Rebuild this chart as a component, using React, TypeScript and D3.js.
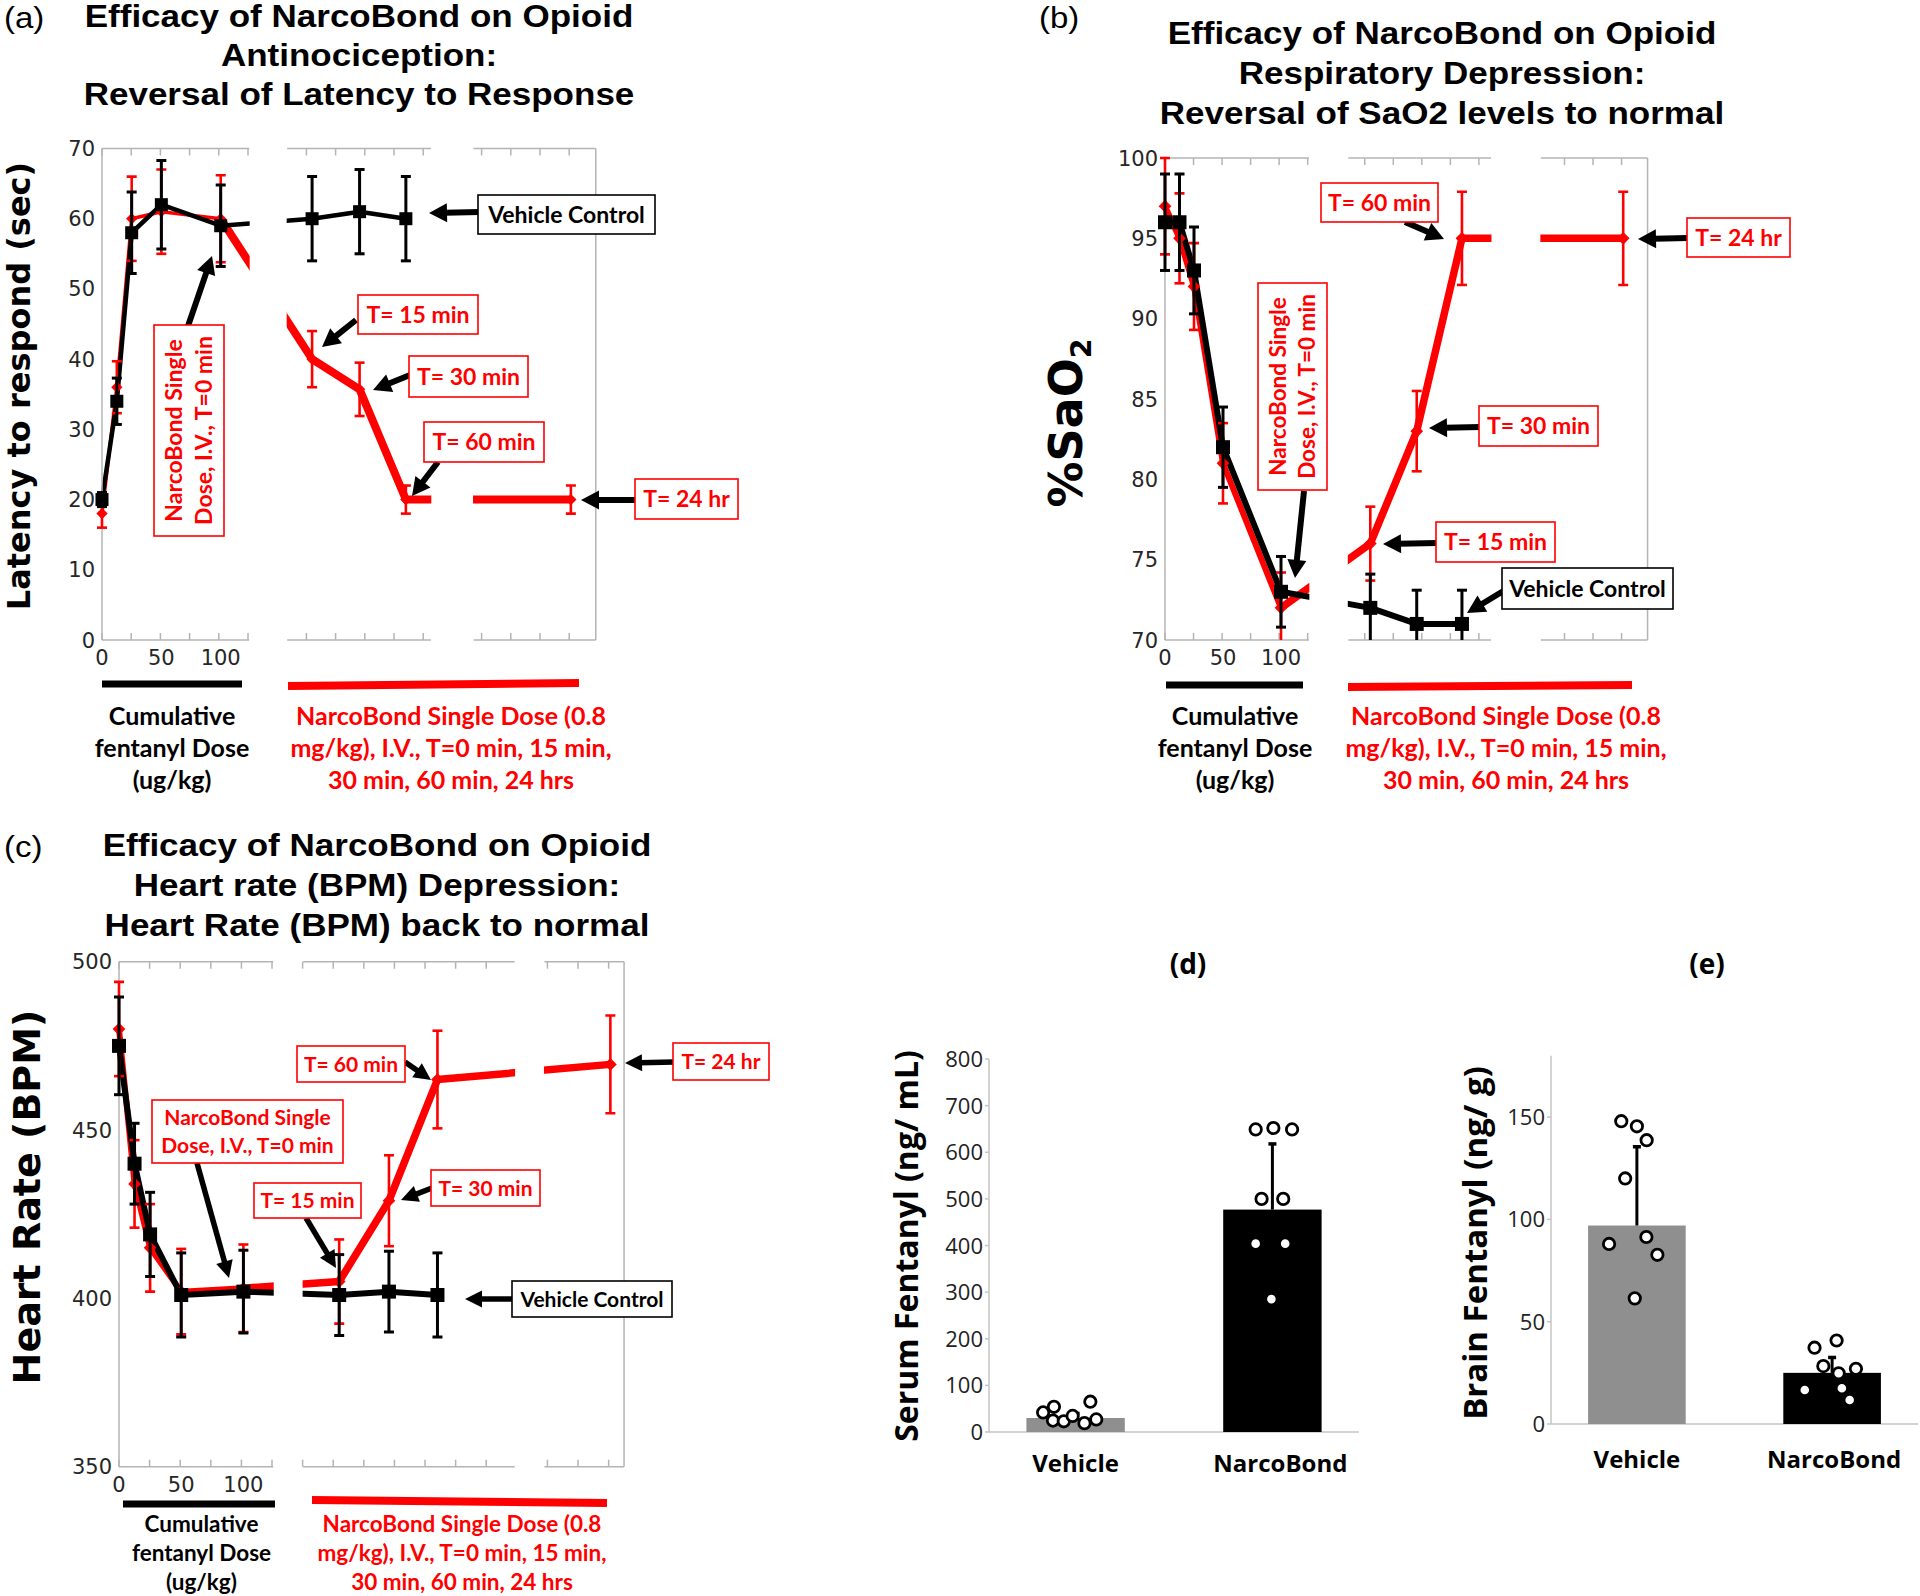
import React from "react";
import * as d3 from "d3";

// ---------------- data ----------------
const doseX = [0, 12.5, 25, 50, 100]; // cumulative fentanyl dose (ug/kg)
const vehTimes = [15, 30, 60]; // min after T=0
const nbTimes = [15, 30, 60, 1440]; // min after T=0 (1440 = 24 hr)
const doseTickLabels = [0, 50, 100];

// (a) latency to respond (sec)
const latVehPre = [20, 34, 58, 62, 59];
const latVehPreErr = [1, 3.3, 5.8, 6.3, 5.8];
const latVehPost = [60, 61, 60];
const latVehPostErr = [6, 6, 6];
const latNbPre = [18, 36, 60, 61, 60];
const latNbPreErr = [2, 3.7, 6, 6, 6.2];
const latNbPost = [40, 35.7, 20, 20];
const latNbPostErr = [4, 3.8, 2, 2];
const latTicks = [0, 10, 20, 30, 40, 50, 60, 70];

// (b) %SaO2
const satVehPre = [96, 96, 93, 82, 73];
const satVehPreErr = [3, 3, 2.7, 2.5, 2.2];
const satVehPost = [72, 71, 71];
const satVehPostErr = [2.1, 2.1, 2.1];
const satNbPre = [97, 95, 92, 81, 72];
const satNbPreErr = [3, 2.8, 2.7, 2.5, 2.2];
const satNbPost = [76, 83, 95, 95];
const satNbPostErr = [2.3, 2.5, 2.9, 2.9];
const satTicks = [70, 75, 80, 85, 90, 95, 100];

// (c) heart rate (BPM)
const hrVehPre = [475, 440, 419, 401, 402];
const hrVehPreErr = [14.5, 12, 12.5, 12.5, 12.3];
const hrVehPost = [401, 402, 401];
const hrVehPostErr = [12, 12, 12.5];
const hrNbPre = [480, 434, 415, 402, 403];
const hrNbPreErr = [14, 13, 13, 12.7, 13];
const hrNbPost = [405, 429, 465, 469.5];
const hrNbPostErr = [12.5, 13.5, 14.5, 14.5];
const hrTicks = [350, 400, 450, 500];

// (d) serum fentanyl, (e) brain fentanyl
const groups = ["Vehicle", "NarcoBond"];
const serumMean = [30, 477];
const serumSD = [12, 143];
const serumVeh = [42, 54, 24.5, 23, 34.5, 19, 65, 27];
const serumNb = [649, 652, 649, 500, 500, 404, 404, 285];
const serumTicks = [0, 100, 200, 300, 400, 500, 600, 700, 800];
const brainMean = [97, 25];
const brainSD = [39, 8];
const brainVeh = [148, 145.5, 138.7, 120, 88, 91.4, 82.7, 61.4];
const brainNb = [37.3, 40.8, 28.3, 27, 24.8, 16.6, 17.5, 11.7];
const brainTicks = [0, 50, 100, 150];
// horizontal jitter of the individual points (fraction of bar width)
const serumVehJit = [-0.33, -0.22, -0.23, -0.12, -0.03, 0.09, 0.15, 0.21];
const serumNbJit = [-0.17, 0.01, 0.2, -0.11, 0.11, -0.17, 0.13, -0.01];
const brainVehJit = [-0.16, 0, 0.1, -0.12, -0.285, 0.097, 0.21, -0.022];
const brainNbJit = [-0.18, 0.046, -0.09, 0.244, 0.067, -0.28, 0.1, 0.18];

// ---------------- styles ----------------
const RED = "#ff0000";
const BLACK = "#000000";
const FRAME = "#b4b4b4";
const TITLE_FONT = "'Liberation Sans', Arial, sans-serif";
const ANN_FONT = "Lato, 'Open Sans', sans-serif";
const AXIS_FONT = "'DejaVu Sans', sans-serif";
const BAR_FONT = "'Open Sans', 'DejaVu Sans', sans-serif";
const TITLE_SX = 1.13;

// time (min) -> position along the broken x axis (virtual units; dose 100 = T 0)
const timeUnit = d3.scaleLinear().domain([0, 15, 30, 60, 1440]).range([100, 177, 217, 256, 395]);

function Arrow({ a, w = 6, hl = 18, hw = 19 }: any) {
  const [x1, y1, x2, y2] = a;
  const dx = x2 - x1, dy = y2 - y1;
  const L = Math.hypot(dx, dy);
  const ux = dx / L, uy = dy / L;
  const px = -uy, py = ux;
  const bx = x2 - ux * hl, by = y2 - uy * hl;
  return (
    <g>
      <line x1={x1} y1={y1} x2={bx + ux * 2} y2={by + uy * 2} stroke={BLACK} strokeWidth={w} />
      <polygon
        points={`${x2},${y2} ${bx + (px * hw) / 2},${by + (py * hw) / 2} ${bx - (px * hw) / 2},${by - (py * hw) / 2}`}
        fill={BLACK}
      />
    </g>
  );
}

function AnnBox({ b }: any) {
  const color = b.c || RED;
  const fs = b.fs;
  const capH = 0.72 * fs;
  const lh = 1.3 * fs;
  const n = b.lines.length;
  const cx = b.x + b.w / 2;
  const cy = b.y + b.h / 2;
  return (
    <g>
      <rect x={b.x} y={b.y} width={b.w} height={b.h} fill="#fff" stroke={color} strokeWidth={1.6} />
      {b.rot ? (
        <text
          transform={`translate(${cx},${cy}) rotate(-90)`}
          textAnchor="middle"
          fontFamily={ANN_FONT}
          fontWeight={700}
          fontSize={fs}
          fill={color}
        >
          {b.lines.map((t: string, i: number) => (
            <tspan key={i} x={0} y={capH / 2 + (i - (n - 1) / 2) * lh}>
              {t}
            </tspan>
          ))}
        </text>
      ) : (
        <text textAnchor="middle" fontFamily={ANN_FONT} fontWeight={700} fontSize={fs} fill={color}>
          {b.lines.map((t: string, i: number) => (
            <tspan key={i} x={cx} y={cy + capH / 2 + (i - (n - 1) / 2) * lh}>
              {t}
            </tspan>
          ))}
        </text>
      )}
    </g>
  );
}

function LinePanel({ cfg }: any) {
  const x = d3.scaleLinear().domain([0, cfg.xmax]).range([cfg.x0, cfg.x0 + cfg.xmax * cfg.k]);
  const y = d3.scaleLinear().domain(cfg.yDomain).range(cfg.yRange);
  const bot = cfg.yRange[0];
  const top = cfg.yRange[1];
  const xr = x(cfg.xmax);

  const vehPts = [
    ...doseX.map((d, i) => ({ u: d, v: cfg.vehPre[i], e: cfg.vehPreErr[i] })),
    ...vehTimes.map((t, i) => ({ u: timeUnit(t), v: cfg.vehPost[i], e: cfg.vehPostErr[i] })),
  ];
  const nbPrePts = doseX.map((d, i) => ({ u: d, v: cfg.nbPre[i], e: cfg.nbPreErr[i] }));
  const nbPostPts = nbTimes.map((t, i) => ({ u: timeUnit(t), v: cfg.nbPost[i], e: cfg.nbPostErr[i] }));
  const nbAll = [...nbPrePts, ...nbPostPts];
  const line = d3
    .line<any>()
    .x((d) => x(d.u))
    .y((d) => y(d.v));

  const gaps: [number, number][] = [];
  for (let i = 0; i < cfg.segs.length - 1; i++) gaps.push([cfg.segs[i][1], cfg.segs[i + 1][0]]);
  const ticks = d3
    .range(0, cfg.xmax + 0.1, 24.6)
    .filter((u) => cfg.segs.some(([a, b]: number[]) => u >= a - 0.5 && u <= b + 0.5));

  const clipId = `clip-${cfg.id}`;
  const errBar = (p: any, color: string, w: number, key: string) => (
    <g key={key} stroke={color} strokeWidth={w}>
      <line x1={x(p.u)} x2={x(p.u)} y1={y(p.v - p.e)} y2={y(p.v + p.e)} />
      <line x1={x(p.u) - 5} x2={x(p.u) + 5} y1={y(p.v - p.e)} y2={y(p.v - p.e)} />
      <line x1={x(p.u) - 5} x2={x(p.u) + 5} y1={y(p.v + p.e)} y2={y(p.v + p.e)} />
    </g>
  );
  const sq = cfg.sq;
  const dm = cfg.dm;

  return (
    <g>
      <defs>
        <clipPath id={clipId}>
          <rect x={cfg.x0 - 12} y={top - 14} width={xr - cfg.x0 + 24} height={bot - top + 14} />
        </clipPath>
      </defs>
      {/* panel letter and title */}
      <text
        transform={`translate(${cfg.labX},${cfg.labY}) scale(1.1,1)`}
        fontFamily={TITLE_FONT}
        fontSize={30}
        fill={BLACK}
      >
        {cfg.label}
      </text>
      <text
        transform={`translate(${cfg.titleX},0) scale(${TITLE_SX},1)`}
        textAnchor="middle"
        fontFamily={TITLE_FONT}
        fontWeight={700}
        fontSize={31}
        fill={BLACK}
      >
        {cfg.title.map((t: string, i: number) => (
          <tspan key={i} x={0} y={cfg.titleY[i]}>
            {t}
          </tspan>
        ))}
      </text>
      {/* data lines */}
      <g clipPath={`url(#${clipId})`} fill="none" strokeLinejoin="round">
        <path d={line(nbPrePts) || ""} stroke={RED} strokeWidth={cfg.redPreW} />
        <path d={line([nbPrePts[nbPrePts.length - 1], ...nbPostPts]) || ""} stroke={RED} strokeWidth={cfg.redPostW} />
        <path d={line(vehPts) || ""} stroke={BLACK} strokeWidth={cfg.blackW} />
      </g>
      {/* axis breaks */}
      {gaps.map(([a, b], i) => (
        <rect key={i} x={x(a) + 0.5} y={top - 3} width={x(b) - x(a) - 1} height={bot - top + 6} fill="#fff" />
      ))}
      {/* frame */}
      <g stroke={FRAME} strokeWidth={1.5}>
        <line x1={cfg.x0} x2={cfg.x0} y1={top} y2={bot} />
        <line x1={xr} x2={xr} y1={top} y2={bot} />
        {cfg.segs.map(([a, b]: number[], i: number) => (
          <g key={i}>
            <line x1={x(a)} x2={x(b)} y1={top} y2={top} />
            <line x1={x(a)} x2={x(b)} y1={bot} y2={bot} />
          </g>
        ))}
        {ticks.map((u: number, i: number) => (
          <g key={`t${i}`}>
            <line x1={x(u)} x2={x(u)} y1={top} y2={top + 7} />
            <line x1={x(u)} x2={x(u)} y1={bot} y2={bot - 7} />
          </g>
        ))}
      </g>
      {/* error bars & markers */}
      <g clipPath={`url(#${clipId})`}>
        {nbAll.map((p, i) => errBar(p, RED, 2.6, `re${i}`))}
        {nbAll.map((p, i) => (
          <rect
            key={`rm${i}`}
            x={-dm / 2}
            y={-dm / 2}
            width={dm}
            height={dm}
            fill={RED}
            transform={`translate(${x(p.u)},${y(p.v)}) rotate(45)`}
          />
        ))}
        {vehPts.map((p, i) => errBar(p, BLACK, 3, `be${i}`))}
        {vehPts.map((p, i) => (
          <rect key={`bm${i}`} x={x(p.u) - sq / 2} y={y(p.v) - sq / 2} width={sq} height={sq} fill={BLACK} />
        ))}
      </g>
      {/* tick labels */}
      <g fontFamily={AXIS_FONT} fontSize={21} fill="#262626">
        {cfg.yTicks.map((t: number) => (
          <text key={t} x={cfg.x0 - 7} y={y(t) + 7.5} textAnchor="end">
            {t}
          </text>
        ))}
        {doseTickLabels.map((t) => (
          <text key={`x${t}`} x={x(t)} y={cfg.xLabY} textAnchor="middle">
            {t}
          </text>
        ))}
      </g>
      {/* y title */}
      <text
        transform={`translate(${cfg.yTitle.x},${cfg.yTitle.y}) rotate(-90)`}
        textAnchor="middle"
        fontFamily={AXIS_FONT}
        fontWeight={700}
        fontSize={cfg.yTitle.fs}
        fill={BLACK}
      >
        {cfg.yTitle.text}
        {cfg.yTitle.sub ? (
          <tspan fontSize={cfg.yTitle.fs * 0.62} dy={cfg.yTitle.fs * 0.2}>
            {cfg.yTitle.sub}
          </tspan>
        ) : null}
      </text>
      {/* annotations */}
      {cfg.ann.map((b: any, i: number) => (
        <Arrow key={`a${i}`} a={b.arrow} w={cfg.arrowW} hl={cfg.arrowHL} hw={cfg.arrowHW} />
      ))}
      {cfg.ann.map((b: any, i: number) => (
        <AnnBox key={`b${i}`} b={b} />
      ))}
      {/* treatment bars below axis */}
      <line x1={cfg.blackBar[0]} y1={cfg.blackBar[1]} x2={cfg.blackBar[2]} y2={cfg.blackBar[3]} stroke={BLACK} strokeWidth={7} />
      <line x1={cfg.redBar[0]} y1={cfg.redBar[1]} x2={cfg.redBar[2]} y2={cfg.redBar[3]} stroke={RED} strokeWidth={8} />
      <text textAnchor="middle" fontFamily={ANN_FONT} fontWeight={700} fontSize={cfg.bottomFs} fill={BLACK}>
        {["Cumulative", "fentanyl Dose", "(ug/kg)"].map((t, i) => (
          <tspan key={i} x={cfg.bottomBlackX} y={cfg.bottomY[i]}>
            {t}
          </tspan>
        ))}
      </text>
      <text textAnchor="middle" fontFamily={ANN_FONT} fontWeight={700} fontSize={cfg.bottomFs} fill={RED}>
        {["NarcoBond Single Dose (0.8", "mg/kg), I.V., T=0 min, 15 min,", "30 min, 60 min, 24 hrs"].map((t, i) => (
          <tspan key={i} x={cfg.bottomRedX} y={cfg.bottomY[i]}>
            {t}
          </tspan>
        ))}
      </text>
    </g>
  );
}

function BarPanel({ cfg }: any) {
  const x = d3.scaleBand().domain(groups).range([cfg.x0, cfg.x1]).paddingInner(0.5).paddingOuter(0.19);
  const y = d3.scaleLinear().domain([0, cfg.ymax]).range([cfg.y0, cfg.yTop]);
  const bw = x.bandwidth();
  const pts = [cfg.vehPts, cfg.nbPts];
  const jit = [cfg.vehJit, cfg.nbJit];
  const fills = ["#8f8f8f", BLACK];
  return (
    <g>
      <text x={cfg.labX} y={cfg.labY} textAnchor="middle" fontFamily={BAR_FONT} fontWeight={700} fontSize={28} fill={BLACK}>
        {cfg.label}
      </text>
      <g stroke="#c4c4c4" strokeWidth={1.5}>
        <line x1={cfg.x0} x2={cfg.x0} y1={cfg.y0} y2={cfg.yTop} />
        <line x1={cfg.x0} x2={cfg.x1} y1={cfg.y0} y2={cfg.y0} />
        {cfg.ticks.map((t: number) => (
          <line key={t} x1={cfg.x0 - 4} x2={cfg.x0} y1={y(t)} y2={y(t)} />
        ))}
      </g>
      <g fontFamily={BAR_FONT} fontSize={22} fill="#222">
        {cfg.ticks.map((t: number) => (
          <text key={t} x={cfg.x0 - 6} y={y(t) + 8} textAnchor="end">
            {t}
          </text>
        ))}
      </g>
      {groups.map((g, i) => (
        <rect key={g} x={x(g)} y={y(cfg.means[i])} width={bw} height={cfg.y0 - y(cfg.means[i])} fill={fills[i]} />
      ))}
      {groups.map((g, i) => {
        const cx = (x(g) as number) + bw / 2;
        const yt = y(cfg.means[i] + cfg.sds[i]);
        return (
          <g key={`e${g}`} stroke={BLACK}>
            <line x1={cx} x2={cx} y1={y(cfg.means[i])} y2={yt} strokeWidth={3} />
            <line x1={cx - 4} x2={cx + 4} y1={yt + 1} y2={yt + 1} strokeWidth={3.5} />
          </g>
        );
      })}
      {groups.map((g, gi) =>
        pts[gi].map((v: number, i: number) => (
          <circle
            key={`${g}${i}`}
            cx={(x(g) as number) + bw / 2 + jit[gi][i] * bw}
            cy={y(v)}
            r={5.7}
            fill="#fff"
            stroke={BLACK}
            strokeWidth={2.8}
          />
        ))
      )}
      <g fontFamily={BAR_FONT} fontWeight={700} fontSize={24} fill={BLACK}>
        {groups.map((g) => (
          <text key={g} x={(x(g) as number) + bw / 2 + (g === "NarcoBond" ? cfg.nbLabShift : 0)} y={cfg.xLabY} textAnchor="middle">
            {g}
          </text>
        ))}
      </g>
      <text
        transform={`translate(${cfg.yTitle.x},${cfg.yTitle.y}) rotate(-90)`}
        textAnchor="middle"
        fontFamily={BAR_FONT}
        fontWeight={700}
        fontSize={cfg.yTitle.fs}
        fill={BLACK}
      >
        {cfg.yTitle.text}
      </text>
    </g>
  );
}

const NB_ROT = ["NarcoBond Single", "Dose, I.V., T=0 min"];

const cfgA = {
  id: "a",
  label: "(a)",
  labX: 4,
  labY: 28,
  title: ["Efficacy of NarcoBond on Opioid", "Antinociception:", "Reversal of Latency to Response"],
  titleX: 359,
  titleY: [27, 66, 105],
  x0: 102,
  k: 1.187,
  xmax: 416,
  segs: [
    [0, 124],
    [156, 277],
    [313, 416],
  ],
  yDomain: [0, 70],
  yRange: [640, 148.5],
  yTicks: latTicks,
  xLabY: 665,
  vehPre: latVehPre,
  vehPreErr: latVehPreErr,
  vehPost: latVehPost,
  vehPostErr: latVehPostErr,
  nbPre: latNbPre,
  nbPreErr: latNbPreErr,
  nbPost: latNbPost,
  nbPostErr: latNbPostErr,
  redPreW: 3.5,
  redPostW: 8,
  blackW: 4.5,
  sq: 13,
  dm: 8,
  yTitle: { x: 30, y: 386, fs: 32, text: "Latency to respond (sec)" },
  arrowW: 6,
  arrowHL: 18,
  arrowHW: 19,
  ann: [
    { rot: true, x: 154, y: 325, w: 70, h: 211, lines: NB_ROT, fs: 23, arrow: [188, 326, 212, 256] },
    { x: 358, y: 295, w: 120, h: 39, lines: ["T= 15 min"], fs: 23, arrow: [356, 320, 322, 347] },
    { x: 409, y: 356, w: 119, h: 41, lines: ["T= 30 min"], fs: 23, arrow: [410, 375, 373, 390] },
    { x: 424, y: 422, w: 120, h: 40, lines: ["T= 60 min"], fs: 23, arrow: [438, 462, 412, 496] },
    { x: 635, y: 479, w: 103, h: 40, lines: ["T= 24 hr"], fs: 23, arrow: [636, 500, 581, 500] },
    { x: 478, y: 195, w: 177, h: 39, lines: ["Vehicle Control"], c: BLACK, fs: 23, arrow: [479, 212, 429, 213] },
  ],
  blackBar: [102, 684, 242, 684],
  redBar: [288, 686, 579, 683],
  bottomFs: 25,
  bottomBlackX: 172,
  bottomRedX: 451,
  bottomY: [725, 757, 789],
};

const cfgB = {
  id: "b",
  label: "(b)",
  labX: 1039,
  labY: 28,
  title: ["Efficacy of NarcoBond on Opioid", "Respiratory Depression:", "Reversal of SaO2 levels to normal"],
  titleX: 1442,
  titleY: [44, 84, 124],
  x0: 1165,
  k: 1.16,
  xmax: 416,
  segs: [
    [0, 124],
    [158, 281],
    [324, 416],
  ],
  yDomain: [70, 100],
  yRange: [640, 158],
  yTicks: satTicks,
  xLabY: 665,
  vehPre: satVehPre,
  vehPreErr: satVehPreErr,
  vehPost: satVehPost,
  vehPostErr: satVehPostErr,
  nbPre: satNbPre,
  nbPreErr: satNbPreErr,
  nbPost: satNbPost,
  nbPostErr: satNbPostErr,
  redPreW: 6,
  redPostW: 7.5,
  blackW: 6,
  sq: 14,
  dm: 9,
  yTitle: { x: 1082, y: 423, fs: 46, text: "%SaO", sub: "2" },
  arrowW: 6,
  arrowHL: 18,
  arrowHW: 19,
  ann: [
    { rot: true, x: 1258, y: 283, w: 69, h: 207, lines: NB_ROT, fs: 22.5, arrow: [1304, 491, 1295, 578] },
    { x: 1321, y: 183, w: 117, h: 39, lines: ["T= 60 min"], fs: 23, arrow: [1405, 222, 1444, 239] },
    { x: 1687, y: 218, w: 103, h: 39, lines: ["T= 24 hr"], fs: 23, arrow: [1688, 238, 1638, 239] },
    { x: 1479, y: 406, w: 119, h: 40, lines: ["T= 30 min"], fs: 23, arrow: [1480, 427, 1429, 428] },
    { x: 1436, y: 522, w: 119, h: 40, lines: ["T= 15 min"], fs: 23, arrow: [1437, 543, 1383, 544] },
    { x: 1502, y: 568, w: 171, h: 41, lines: ["Vehicle Control"], c: BLACK, fs: 23, arrow: [1505, 590, 1467, 613] },
  ],
  blackBar: [1166, 685, 1303, 685],
  redBar: [1348, 687, 1632, 685],
  bottomFs: 25,
  bottomBlackX: 1235,
  bottomRedX: 1506,
  bottomY: [725, 757, 789],
};

const cfgC = {
  id: "c",
  label: "(c)",
  labX: 4,
  labY: 857,
  title: ["Efficacy of NarcoBond on Opioid", "Heart rate (BPM) Depression:", "Heart Rate (BPM) back to normal"],
  titleX: 377,
  titleY: [856, 896, 936],
  x0: 119,
  k: 1.244,
  xmax: 406,
  segs: [
    [0, 124],
    [148, 318],
    [342, 406],
  ],
  yDomain: [350, 500],
  yRange: [1466.7, 961.7],
  yTicks: hrTicks,
  xLabY: 1492,
  vehPre: hrVehPre,
  vehPreErr: hrVehPreErr,
  vehPost: hrVehPost,
  vehPostErr: hrVehPostErr,
  nbPre: hrNbPre,
  nbPreErr: hrNbPreErr,
  nbPost: hrNbPost,
  nbPostErr: hrNbPostErr,
  redPreW: 6,
  redPostW: 7.5,
  blackW: 6,
  sq: 14,
  dm: 9,
  yTitle: { x: 40, y: 1197, fs: 38, text: "Heart Rate (BPM)" },
  arrowW: 5.5,
  arrowHL: 17,
  arrowHW: 17,
  ann: [
    { x: 152, y: 1100, w: 191, h: 63, lines: NB_ROT, fs: 21, arrow: [197, 1163, 229, 1278] },
    { x: 297, y: 1046, w: 108, h: 36, lines: ["T= 60 min"], fs: 21, arrow: [405, 1062, 431, 1080] },
    { x: 254, y: 1183, w: 107, h: 35, lines: ["T= 15 min"], fs: 21, arrow: [306, 1218, 336, 1268] },
    { x: 431, y: 1170, w: 109, h: 36, lines: ["T= 30 min"], fs: 21, arrow: [432, 1188, 401, 1200] },
    { x: 673, y: 1043, w: 96, h: 37, lines: ["T= 24 hr"], fs: 21, arrow: [674, 1062, 625, 1063] },
    { x: 512, y: 1281, w: 160, h: 36, lines: ["Vehicle Control"], c: BLACK, fs: 21, arrow: [513, 1299, 465, 1299] },
  ],
  blackBar: [123, 1504, 275, 1504],
  redBar: [312, 1500, 607, 1503],
  bottomFs: 22.5,
  bottomBlackX: 201.5,
  bottomRedX: 462,
  bottomY: [1532, 1561, 1590],
};

const cfgD = {
  label: "(d)",
  labX: 1188,
  labY: 974,
  x0: 989,
  x1: 1359,
  y0: 1432,
  yTop: 1059,
  ymax: 800,
  ticks: serumTicks,
  means: serumMean,
  sds: serumSD,
  vehPts: serumVeh,
  nbPts: serumNb,
  vehJit: serumVehJit,
  nbJit: serumNbJit,
  xLabY: 1472,
  nbLabShift: 8,
  yTitle: { x: 918, y: 1246, fs: 32, text: "Serum Fentanyl (ng/ mL)" },
};

const cfgE = {
  label: "(e)",
  labX: 1707,
  labY: 974,
  x0: 1551,
  x1: 1918,
  y0: 1424,
  yTop: 1055.7,
  ymax: 180,
  ticks: brainTicks,
  means: brainMean,
  sds: brainSD,
  vehPts: brainVeh,
  nbPts: brainNb,
  vehJit: brainVehJit,
  nbJit: brainNbJit,
  xLabY: 1468,
  nbLabShift: 2,
  yTitle: { x: 1487, y: 1243, fs: 33, text: "Brain Fentanyl (ng/ g)" },
};

export default function App() {
  return (
    <svg
      width={1920}
      height={1596}
      viewBox="0 0 1920 1596"
      style={{ position: "absolute", left: 0, top: 0, background: "#fff" }}
    >
      <rect x={0} y={0} width={1920} height={1596} fill="#fff" />
      <LinePanel cfg={cfgA} />
      <LinePanel cfg={cfgB} />
      <LinePanel cfg={cfgC} />
      <BarPanel cfg={cfgD} />
      <BarPanel cfg={cfgE} />
    </svg>
  );
}
